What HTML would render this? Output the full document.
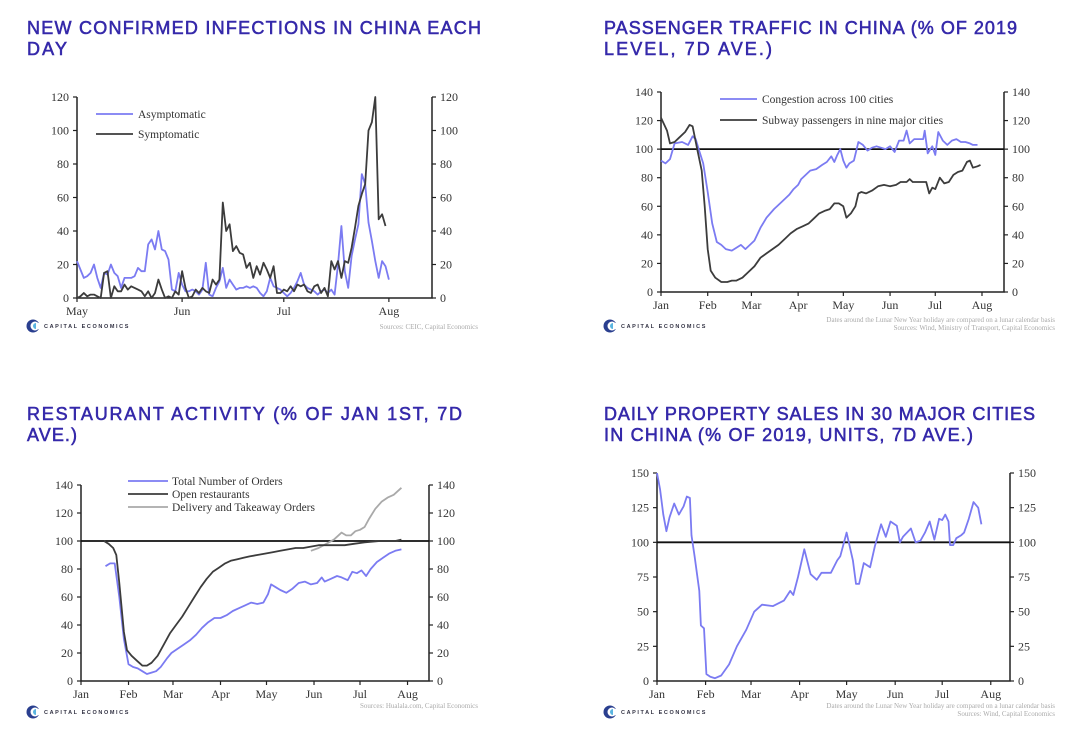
<!DOCTYPE html>
<html><head><meta charset="utf-8"><style>
html,body{margin:0;padding:0;background:#fff;}
svg{display:block;}
.title{font-family:"Liberation Sans",sans-serif;font-size:18px;font-weight:normal;fill:#3529aa;stroke:#3529aa;stroke-width:0.55;}
.tick{font-family:"Liberation Serif",serif;font-size:12px;fill:#333;}
.leg{font-family:"Liberation Serif",serif;font-size:11.5px;fill:#333;}
.src{font-family:"Liberation Serif",serif;font-size:7px;fill:#aaa;}
.logo{font-family:"Liberation Sans",sans-serif;font-size:5.5px;fill:#334;letter-spacing:1.6px;font-weight:bold;}
</style></head><body>
<svg id="root" width="1075" height="745" viewBox="0 0 1075 745" xmlns="http://www.w3.org/2000/svg"></svg>
<script>
// ---------- DATA ----------
// Chart 1: days since May 1
const c1Asym = [22,17,12,13,15,20,12,6,15,14,20,15,13,6,12,12,12,13,18,16,16,32,35,29,40,29,28,23,5,4,15,8,4,4,5,4,2,5,21,2,1,6,10,18,6,11,8,5,6,6,7,6,7,6,3,1,4,12,7,6,5,3,1,3,6,10,15,8,6,5,4,2,4,5,3,5,2,20,43,16,6,25,35,44,74,68,45,34,22,12,22,19,11];
const c1Sym = [0,1,3,1,2,2,1,0,15,16,0,7,4,4,8,5,7,6,5,4,1,4,0,3,11,5,0,1,0,4,2,16,6,0,1,5,3,6,4,3,11,8,11,57,40,44,28,31,27,26,18,21,12,19,14,21,17,12,19,3,3,5,4,7,4,8,7,8,4,3,7,8,3,6,1,22,17,22,12,22,21,30,42,55,62,68,100,105,120,47,50,43];
const c1Ticks = [0,20,40,60,80,100,120];
const c1Months = ["May","Jun","Jul","Aug"];
const c1MonthDays = [0,31,61,92];

// Chart 2: days since Jan 1
const c2CongDays = [0,3,6,9,14,18,21,23,25,28,31,34,37,40,43,47,50,53,56,59,62,66,70,75,80,85,88,91,93,96,99,103,107,110,113,115,117,119,121,123,125,128,131,134,137,140,143,146,149,152,155,158,161,163,165,168,171,174,175,177,180,182,184,187,190,193,196,199,202,205,207,210];
const c2CongVals = [92,90,93,104,105,103,109,107,100,90,70,48,35,33,30,29,31,33,30,33,36,45,52,58,63,68,72,75,79,82,85,86,89,91,95,91,96,100,92,87,90,92,105,103,99,101,102,101,100,102,98,106,106,113,104,107,107,107,113,97,102,96,112,106,103,106,107,105,105,104,103,103];
const c2SubDays = [0,4,6,9,12,16,19,21,24,27,29,31,33,36,40,44,47,50,54,58,62,66,70,74,78,82,86,90,94,98,102,105,109,112,115,118,121,123,126,129,131,133,136,140,144,148,152,156,159,163,165,167,172,176,178,180,182,185,188,191,194,197,200,203,205,207,210,212];
const c2SubVals = [122,113,104,105,108,112,117,116,100,85,60,30,15,10,7,7,8,8,10,14,18,24,27,30,33,37,41,44,46,48,52,55,57,58,62,62,60,52,55,60,69,70,69,71,74,75,74,75,77,77,79,77,77,77,69,73,72,80,76,77,82,84,85,91,92,87,88,89];
const c2Ticks = [0,20,40,60,80,100,120,140];
const c2Months = ["Jan","Feb","Mar","Apr","May","Jun","Jul","Aug"];
const monthDays = [0,31,60,91,121,152,182,213];

// Chart 3
const c3OrdDays = [16,19,22,25,28,31,34,37,40,43,46,49,52,56,59,63,67,71,75,79,83,87,91,95,99,103,107,111,115,119,122,124,127,130,134,138,142,146,150,154,157,159,163,167,170,174,177,180,183,186,189,193,197,201,205,209];
const c3OrdVals = [82,84,84,60,30,12,10,9,7,5,6,7,10,16,20,23,26,29,33,38,42,45,45,47,50,52,54,56,55,56,62,69,67,65,63,66,70,71,69,70,74,71,73,75,74,72,78,77,79,75,80,85,88,91,93,94];
const c3OpenDays = [15,18,21,23,25,28,30,33,37,40,43,46,50,54,58,62,66,70,74,78,82,86,90,94,98,102,106,110,115,120,125,130,135,140,145,150,155,160,165,172,178,185,195,205,209];
const c3OpenVals = [100,98,95,90,70,35,22,18,14,11,11,13,18,26,34,40,46,53,60,67,73,78,81,84,86,87,88,89,90,91,92,93,94,95,95,96,97,97,97,97,98,99,100,100,101];
const c3DelDays = [150,155,160,165,170,173,176,179,182,185,188,192,196,200,204,209];
const c3DelVals = [93,95,98,101,106,104,104,107,108,110,116,123,128,131,133,138];
const c3Ticks = [0,20,40,60,80,100,120,140];

// Chart 4
const c4Days = [0,2,4,6,8,11,14,17,19,21,22,24,27,28,30,31.5,34,37,41,46,51,57,62,67,74,81,85,87,90,94,98,102,105,111,115,117,121,125,127,129,132,136,139,143,146,149,153,155,157,162,165,168,171,174,177,180,182,184,186,187,189,191,194,196,199,202,205,207];
const c4Vals = [150,138,120,108,118,128,120,126,133,132,105,90,65,40,38,5,3,2,4,12,25,37,50,55,54,58,65,62,75,95,77,73,78,78,87,90,107,87,70,70,85,82,97,113,104,115,112,100,104,110,100,101,107,115,102,117,116,120,115,98,98,103,105,107,117,129,125,113];
const c4Ticks = [0,25,50,75,100,125,150];

// ---------- DRAW ----------
const NS = "http://www.w3.org/2000/svg";
const root = document.getElementById('root');
function mk(tag, parent, attrs){ const e=document.createElementNS(NS,tag); for(const k in attrs) e.setAttribute(k,attrs[k]); parent.appendChild(e); return e; }

function title(lines, x, ys, widths, name){
  const g = mk('g', root, {});
  
  
  lines.forEach((s,i)=>{
    const t = mk('text', g, {x:x, y:ys[i], class:'title', textLength:widths[i], lengthAdjust:'spacing'});
    t.textContent = s;
  });
}

function chart(cfg){
  const g = mk('g', root, {});
  
  
  const {L,R,T,B,max,ticks} = cfg;
  const y = v => B - v/max*(B-T);
  const x = d => L + d*cfg.ppd;
  const ax = mk('path', g, {d:`M${L},${T}V${B}H${R}V${T}`, fill:'none', stroke:'#222', 'stroke-width':1.5});
  
  
  ticks.forEach(v=>{
    mk('line', g, {x1:L-4,x2:L,y1:y(v),y2:y(v),stroke:'#222','stroke-width':1.2});
    mk('line', g, {x1:R,x2:R+4,y1:y(v),y2:y(v),stroke:'#222','stroke-width':1.2});
    const tl = mk('text', g, {x:L-8,y:y(v)+4,'text-anchor':'end',class:'tick'});
    
    
    tl.textContent = v;
    const tr = mk('text', g, {x:R+8,y:y(v)+4,class:'tick'});
    
    
    tr.textContent = v;
  });
  cfg.months.forEach((m,i)=>{
    const xx = x(cfg.mdays[i]);
    mk('line', g, {x1:xx,x2:xx,y1:B,y2:B+4,stroke:'#222','stroke-width':1.2});
    const t = mk('text', g, {x:xx,y:B+17,'text-anchor':'middle',class:'tick'});
    
    
    t.textContent = m;
  });
  if(cfg.ref){
    const r = mk('line', g, {x1:L,x2:R,y1:y(100),y2:y(100),stroke:'#111','stroke-width':1.8});
    
    
  }
  cfg.series.forEach(s=>{
    const pts = s.vals.map((v,i)=>`${x(s.days?s.days[i]:i).toFixed(1)},${y(v).toFixed(1)}`).join(' ');
    const p = mk('polyline', g, {points:pts, fill:'none', stroke:s.color, 'stroke-width':1.8, 'stroke-linejoin':'round'});
    
    
  });
  (cfg.legend||[]).forEach(l=>{
    const lg = mk('g', g, {});
    
    
    mk('line', lg, {x1:l.x1,x2:l.x2,y1:l.y,y2:l.y,stroke:l.color,'stroke-width':1.8});
    const t = mk('text', lg, {x:l.tx,y:l.y+4,class:'leg'});
    t.textContent = l.text;
  });
  const lg = mk('g', g, {});
  
  
  mk('circle', lg, {cx:cfg.lx+6, cy:cfg.ly, r:6.5, fill:'#2a3f8f'});
  mk('circle', lg, {cx:cfg.lx+8, cy:cfg.ly, r:4.5, fill:'#fff'});
  mk('circle', lg, {cx:cfg.lx+9, cy:cfg.ly, r:3, fill:'#5ab4e0'});
  mk('rect', lg, {x:cfg.lx+9, y:cfg.ly-3, width:5, height:6, fill:'#fff'});
  const lt = mk('text', lg, {x:cfg.lx+17, y:cfg.ly+2, class:'logo'});
  lt.textContent = 'CAPITAL ECONOMICS';
  cfg.src.forEach((s,i)=>{
    const t = mk('text', g, {x:cfg.sx, y:cfg.sy+i*8, 'text-anchor':'end', class:'src'});
    
    
    t.textContent = s;
  });
}

const BLUE = '#7b7bf2', DARK = '#3c3c3c', GRAY = '#a9a9a9';

title(["NEW CONFIRMED INFECTIONS IN CHINA EACH","DAY"], 27, [34,55], [454,40], 'chart-title-infections');
title(["PASSENGER TRAFFIC IN CHINA (% OF 2019","LEVEL, 7D AVE.)"], 604, [34,55], [413,168], 'chart-title-traffic');
title(["RESTAURANT ACTIVITY (% OF JAN 1ST, 7D","AVE.)"], 27, [420,441], [435,50], 'chart-title-restaurant');
title(["DAILY PROPERTY SALES IN 30 MAJOR CITIES","IN CHINA (% OF 2019, UNITS, 7D AVE.)"], 604, [420,441], [431,369], 'chart-title-property');

chart({name:'infections-chart',L:77,R:432,T:97,B:298,max:120,ticks:c1Ticks,ppd:3.39,
  months:c1Months,mdays:c1MonthDays,
  series:[{name:'asymptomatic-line',vals:c1Asym,color:BLUE},{name:'symptomatic-line',vals:c1Sym,color:DARK}],
  legend:[{x1:96,x2:133,y:114,tx:138,text:'Asymptomatic',color:BLUE},{x1:96,x2:133,y:134,tx:138,text:'Symptomatic',color:DARK}],
  lx:27,ly:326,src:['Sources: CEIC, Capital Economics'],sx:478,sy:329});

chart({name:'traffic-chart',L:661,R:1004,T:92,B:292,max:140,ticks:c2Ticks,ppd:1.507,ref:true,
  months:c2Months,mdays:monthDays,
  series:[{name:'congestion-line',days:c2CongDays,vals:c2CongVals,color:BLUE},{name:'subway-line',days:c2SubDays,vals:c2SubVals,color:DARK}],
  legend:[{x1:720,x2:757,y:99,tx:762,text:'Congestion across 100 cities',color:BLUE},{x1:720,x2:757,y:120,tx:762,text:'Subway passengers in nine major cities',color:DARK}],
  lx:604,ly:326,src:['Dates around the Lunar New Year holiday are compared on a lunar calendar basis','Sources: Wind, Ministry of Transport, Capital Economics'],sx:1055,sy:322});

chart({name:'restaurant-chart',L:81,R:429,T:485,B:681,max:140,ticks:c3Ticks,ppd:1.533,ref:true,
  months:c2Months,mdays:monthDays,
  series:[{name:'total-orders-line',days:c3OrdDays,vals:c3OrdVals,color:BLUE},{name:'delivery-orders-line',days:c3DelDays,vals:c3DelVals,color:GRAY},{name:'open-restaurants-line',days:c3OpenDays,vals:c3OpenVals,color:DARK}],
  legend:[{x1:128,x2:168,y:481,tx:172,text:'Total Number of Orders',color:BLUE},{x1:128,x2:168,y:494,tx:172,text:'Open restaurants',color:DARK},{x1:128,x2:168,y:507,tx:172,text:'Delivery and Takeaway Orders',color:GRAY}],
  lx:27,ly:712,src:['Sources: Hualala.com, Capital Economics'],sx:478,sy:708});

chart({name:'property-chart',L:657,R:1010,T:473,B:681,max:150,ticks:c4Ticks,ppd:1.567,ref:true,
  months:c2Months,mdays:monthDays,
  series:[{name:'property-sales-line',days:c4Days,vals:c4Vals,color:BLUE}],
  legend:[],
  lx:604,ly:712,src:['Dates around the Lunar New Year holiday are compared on a lunar calendar basis','Sources: Wind, Capital Economics'],sx:1055,sy:708});
</script>
</body></html>
